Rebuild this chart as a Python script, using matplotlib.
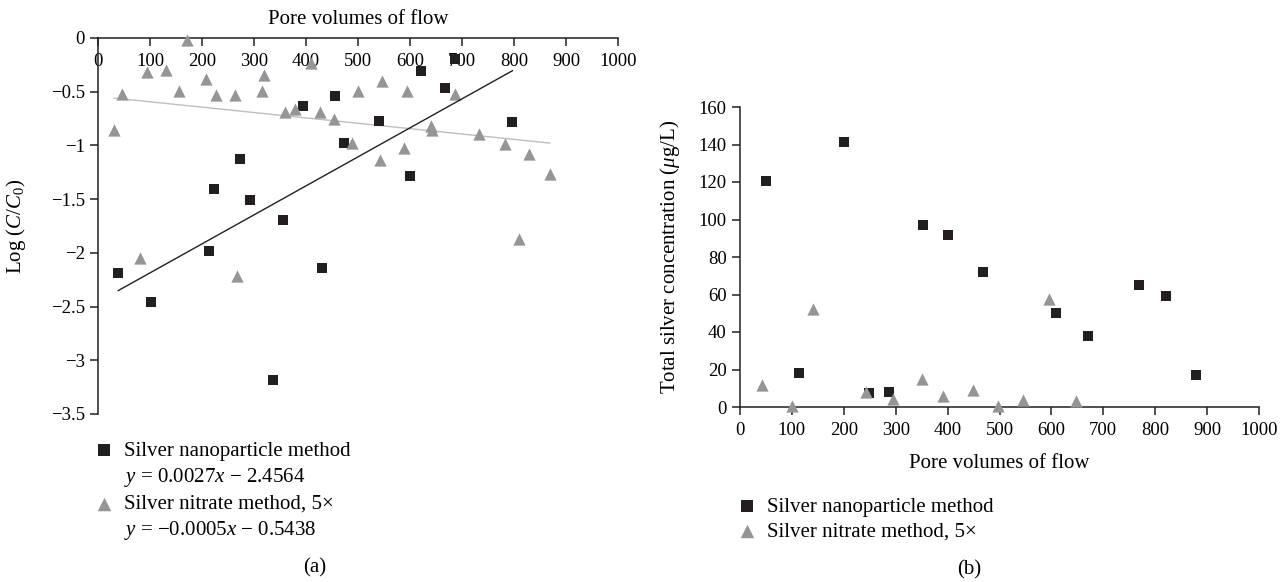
import matplotlib
matplotlib.use('Agg')
import matplotlib.pyplot as plt
from matplotlib.lines import Line2D
from matplotlib.ticker import FuncFormatter, MultipleLocator
import numpy as np

plt.rcParams['font.family'] = 'Liberation Serif'
plt.rcParams['mathtext.fontset'] = 'custom'
plt.rcParams['mathtext.rm'] = 'Liberation Serif'
plt.rcParams['mathtext.it'] = 'Liberation Serif:italic'

######################### data (a) : log(C/C0) ###########################
np_pv = [39, 102, 214, 224, 274, 293, 336, 355, 394, 430, 455, 473, 540,
         600, 622, 668, 687, 797]
np_logc = [-2.19, -2.46, -1.98, -1.41, -1.13, -1.51, -3.18, -1.69, -0.63,
           -2.14, -0.54, -0.98, -0.77, -1.28, -0.31, -0.47, -0.20, -0.78]

no3_pv = [31, 46, 80, 95, 130, 156, 172, 207, 226, 264, 267, 316, 320, 359,
          379, 409, 426, 453, 488, 500, 543, 547, 589, 594, 641, 643, 687,
          733, 783, 810, 828, 869]
no3_logc = [-0.86, -0.52, -2.05, -0.32, -0.30, -0.49, -0.02, -0.38, -0.53,
            -0.53, -2.22, -0.49, -0.34, -0.69, -0.66, -0.23, -0.69, -0.75,
            -0.98, -0.49, -1.14, -0.40, -1.02, -0.49, -0.82, -0.86, -0.52,
            -0.89, -0.99, -1.87, -1.08, -1.27]

np_fit = [0.0027, -2.4564]     # slope, intercept
no3_fit = [-0.0005, -0.5438]

######################### data (b) : total silver ########################
np_pv_b = [51, 114, 201, 249, 288, 353, 401, 469, 608, 671, 768, 820, 879]
np_conc = [120.7, 18.1, 141.3, 7.4, 8.2, 97.3, 91.5, 72.2, 50.0, 37.9,
           64.9, 59.0, 17.0]

no3_pv_b = [42, 101, 140, 243, 295, 350, 392, 448, 498, 546, 596, 648]
no3_conc = [11.9, 0.4, 52.1, 7.8, 4.4, 15.1, 5.7, 9.2, 0.4, 3.5, 57.4, 3.0]

lab_np = 'Silver nanoparticle method'
lab_no3 = 'Silver nitrate method, 5\u00d7'

#########################################################################
c_sq = '#231f20'
c_tri = '#939598'
c_line2 = '#bcbec0'
fs = 15
fs_t = 13.5
ms_sq = 60
ms_tri = 78
W, H = 1288, 582

fig = plt.figure(figsize=(W / 100, H / 100), dpi=100)

# ---------------- panel (a)
ax = fig.add_axes([98 / W, 1 - 414 / H, 520 / W, 376 / H])

sq = ax.scatter(np_pv, np_logc, marker='s', s=ms_sq, color=c_sq, lw=0,
                clip_on=False, zorder=3)
tri = ax.scatter(no3_pv, no3_logc, marker='^', s=ms_tri, color=c_tri, lw=0,
                 clip_on=False, zorder=3)

xx = np.array([min(np_pv), max(np_pv)])
ax.plot(xx, np_fit[0] * xx + np_fit[1], color=c_sq, lw=1.0, zorder=4)
xx = np.array([min(no3_pv), max(no3_pv)])
ax.plot(xx, no3_fit[0] * xx + no3_fit[1], color=c_line2, lw=1.0, zorder=2)

ax.set_xlim(0, 1000)
ax.set_ylim(-3.5, 0)
ax.xaxis.set_major_locator(MultipleLocator(100))
ax.yaxis.set_major_locator(MultipleLocator(0.5))
ax.yaxis.set_major_formatter(FuncFormatter(lambda v, p: ('%g' % v).replace('-', '\u2212')))

ax.spines['bottom'].set_position(('data', 0))
ax.spines['top'].set_visible(False)
ax.spines['right'].set_visible(False)
for s in ['bottom', 'left']:
    ax.spines[s].set_color(c_sq)
    ax.spines[s].set_linewidth(1.1)
ax.tick_params(axis='both', direction='out', length=6, width=1.1,
               color=c_sq, labelsize=fs_t)
ax.tick_params(axis='x', pad=5)

ax.xaxis.set_label_position('top')
ax.set_xlabel('Pore volumes of flow', fontsize=fs)
ax.xaxis.set_label_coords(0.5, 1.037)
ax.set_ylabel('Log ($C/C_0$)', fontsize=fs)
ax.yaxis.set_label_coords(-0.135, 0.5)

blank = Line2D([], [], ls='none')
ax.legend([sq, blank, tri, blank],
          [lab_np, '$y$ = 0.0027$x$ \u2212 2.4564',
           lab_no3, '$y$ = \u22120.0005$x$ \u2212 0.5438'],
          loc='upper left', bbox_to_anchor=(94 / W, 1 - 441 / H),
          bbox_transform=fig.transFigure, frameon=False, fontsize=fs,
          scatterpoints=1, markerscale=1.1, handlelength=1.0,
          handletextpad=0.45, labelspacing=0.26, borderpad=0,
          borderaxespad=0)

# ---------------- panel (b)
ax2 = fig.add_axes([740 / W, 1 - 407 / H, 519 / W, 300 / H])

sq2 = ax2.scatter(np_pv_b, np_conc, marker='s', s=ms_sq, color=c_sq, lw=0,
                  clip_on=False, zorder=3)
tri2 = ax2.scatter(no3_pv_b, no3_conc, marker='^', s=ms_tri, color=c_tri,
                   lw=0, clip_on=False, zorder=4)

ax2.set_xlim(0, 1000)
ax2.set_ylim(0, 160)
ax2.xaxis.set_major_locator(MultipleLocator(100))
ax2.yaxis.set_major_locator(MultipleLocator(20))
ax2.spines['top'].set_visible(False)
ax2.spines['right'].set_visible(False)
for s in ['bottom', 'left']:
    ax2.spines[s].set_color(c_sq)
    ax2.spines[s].set_linewidth(1.1)
ax2.tick_params(axis='both', direction='out', length=6, width=1.1,
                color=c_sq, labelsize=fs_t)
ax2.tick_params(axis='x', pad=5)

ax2.set_xlabel('Pore volumes of flow', fontsize=fs)
ax2.xaxis.set_label_coords(0.5, -0.155)
ax2.set_ylabel('Total silver concentration ($\\mu$g/L)', fontsize=fs)
ax2.yaxis.set_label_coords(-0.112, 0.5)

ax2.legend([sq2, tri2], [lab_np, lab_no3],
           loc='upper left', bbox_to_anchor=(737 / W, 1 - 497 / H),
           bbox_transform=fig.transFigure, frameon=False, fontsize=fs,
           scatterpoints=1, markerscale=1.1, handlelength=1.0,
           handletextpad=0.45, labelspacing=0.26, borderpad=0,
           borderaxespad=0)

fig.text(315 / W, 1 - 568 / H, '(a)', fontsize=fs, ha='center', va='center')
fig.text(969 / W, 1 - 570 / H, '(b)', fontsize=fs, ha='center', va='center')

plt.savefig('out.png', dpi=100)
plt.close()
